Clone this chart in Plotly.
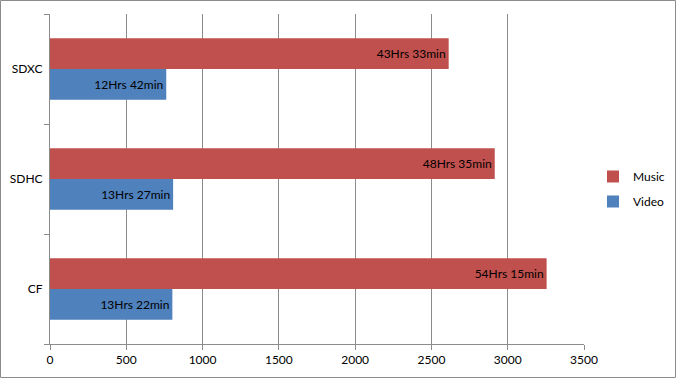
import plotly.graph_objects as go

categories = ["CF", "SDHC", "SDXC"]
music_minutes = [3255, 2915, 2613]
video_minutes = [802, 807, 762]
music_labels = ["54Hrs 15min", "48Hrs 35min", "43Hrs 33min"]
video_labels = ["13Hrs 22min", "13Hrs 27min", "12Hrs 42min"]
x_ticks = [0, 500, 1000, 1500, 2000, 2500, 3000, 3500]

FONT = "Lato, Open Sans, sans-serif"
W, H = 677, 379
ML, MR, MT, MB = 50, 93, 14, 35

fig = go.Figure()
fig.add_trace(go.Bar(
    y=categories, x=video_minutes, name="Video", orientation="h",
    legendgroup="v", legendrank=2,
    marker=dict(color="#4F81BD", line=dict(width=0)),
    text=video_labels, textposition="inside", insidetextanchor="end",
    textfont=dict(color="black", size=12, family=FONT),
))
fig.add_trace(go.Bar(
    y=categories, x=music_minutes, name="Music", orientation="h",
    legendgroup="m", legendrank=1,
    marker=dict(color="#C0504D", line=dict(width=0)),
    text=music_labels, textposition="inside", insidetextanchor="end",
    textfont=dict(color="black", size=12, family=FONT),
))

pw = W - ML - MR
ph = H - MT - MB
fig.add_shape(type="rect", xref="paper", yref="paper",
              x0=-(ML - 0.5) / pw, x1=1 + (MR - 1.5) / pw,
              y0=-(MB - 1.5) / ph, y1=1 + (MT - 0.5) / ph,
              line=dict(color="#8C8C8C", width=1), layer="below")

fig.update_layout(
    width=W, height=H,
    margin=dict(l=ML, r=MR, t=MT, b=MB, pad=0, autoexpand=False),
    paper_bgcolor="white", plot_bgcolor="white",
    barmode="group", bargap=0.44, bargroupgap=0,
    font=dict(family=FONT, size=12, color="black"),
    showlegend=True,
    legend=dict(traceorder="grouped", x=(593 - ML) / pw, y=0.5 - 10 / ph,
                yanchor="middle", xanchor="left", font=dict(size=12, family=FONT),
                itemwidth=30, tracegroupgap=6, bgcolor="rgba(0,0,0,0)"),
    uniformtext=dict(mode="show", minsize=8),
)
fig.update_xaxes(range=[0, 3500], tickvals=x_ticks, ticktext=[str(v) for v in x_ticks],
                 showgrid=True, gridcolor="#8C8C8C", gridwidth=1,
                 showline=True, linecolor="#8C8C8C", linewidth=1,
                 ticks="outside", ticklen=5, tickcolor="#8C8C8C",
                 zeroline=False, tickfont=dict(size=12), fixedrange=True,
                 automargin=False)
fig.update_yaxes(categoryorder="array", categoryarray=categories,
                 showline=True, linecolor="#8C8C8C", linewidth=1,
                 ticks="outside", ticklen=5, tickcolor="#8C8C8C",
                 tickson="boundaries", showgrid=False,
                 tickfont=dict(size=12), ticklabelstandoff=4, fixedrange=True,
                 automargin=False)

fig.write_html("out.html", config={"displayModeBar": False},
               post_script="document.body.style.margin='0';document.body.style.padding='0';")
